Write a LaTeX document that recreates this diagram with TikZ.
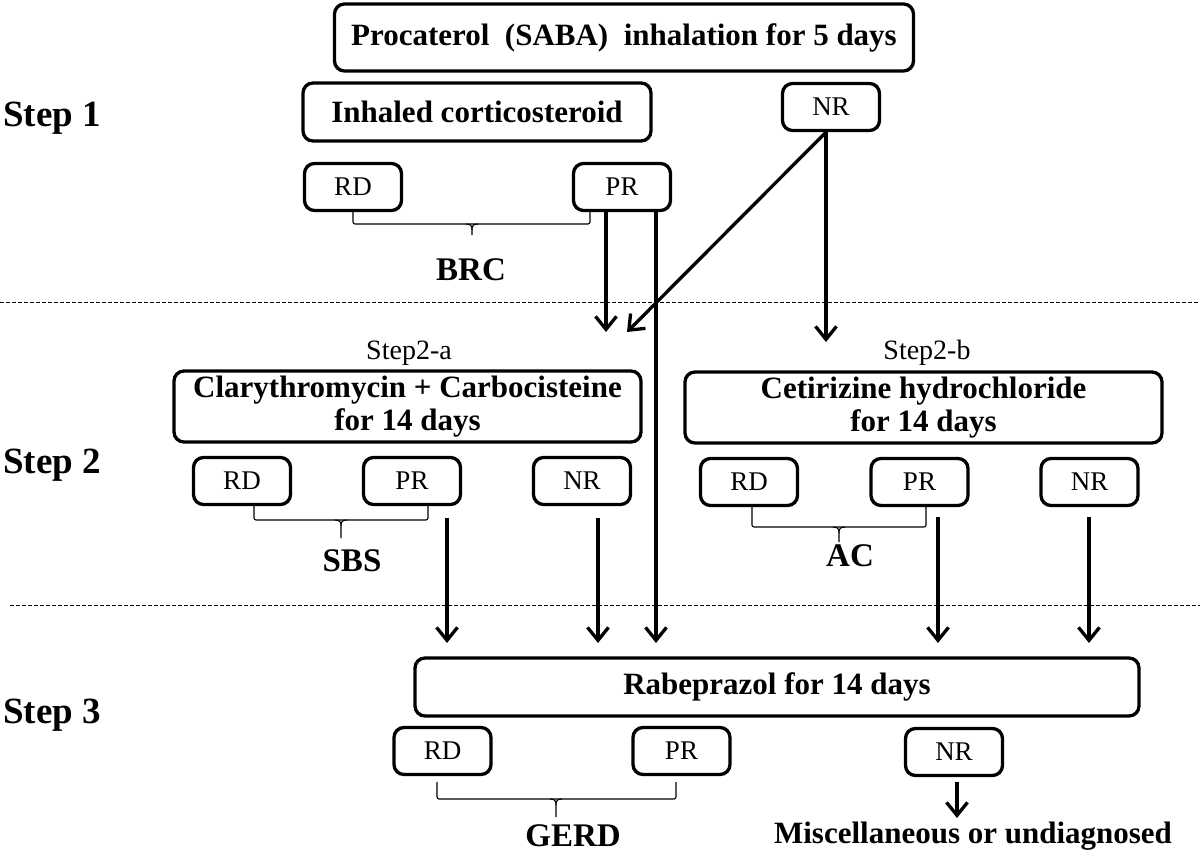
\documentclass[tikz,border=0pt]{standalone}
\usepackage{fontspec}
\setmainfont{Liberation Serif}
\usetikzlibrary{arrows.meta}
\begin{document}
\begin{tikzpicture}[x=1pt,y=-1pt,
  box/.style={draw, line width=3.3pt, rounded corners=10pt, inner sep=0pt, align=center},
  small/.style={box, minimum width=97pt, minimum height=47pt, font=\fontsize{27}{30}\selectfont},
  big/.style={font=\fontsize{31}{33}\selectfont\bfseries},
  steplab/.style={anchor=west, inner sep=0pt, font=\fontsize{37}{40}\selectfont\bfseries},
  grp/.style={inner sep=0pt, font=\fontsize{33}{36}\selectfont\bfseries},
  sub/.style={inner sep=0pt, font=\fontsize{28}{30}\selectfont},
  arr/.style={line width=3.3pt, -{Straight Barb[length=13pt,width=21pt]}},
  brk/.style={line width=1.1pt, rounded corners=2pt},
  sepline/.style={line width=0.9pt, dash pattern=on 4pt off 2pt}
]
\useasboundingbox (0,0) rectangle (1200,856);

% separators
\draw[sepline] (0,302) -- (1200,302);
\draw[sepline] (10,605) -- (1200,605);

% step labels
\node[steplab] (s1) at (3,118) {Step 1};
\node[steplab] (s2) at (3,465) {Step 2};
\node[steplab] (s3) at (3,715) {Step 3};

% step 1
\node[box,big,minimum width=579pt,minimum height=67pt] (title) at (624,37.5) {Procaterol\ \ (SABA)\ \ inhalation for 5 days};
\node[box,big,minimum width=348pt,minimum height=58pt] (ics) at (477,112) {Inhaled corticosteroid};
\node[small] (nr1) at (831,107) {NR};
\node[small] (rd1) at (353,187) {RD};
\node[small] (pr1) at (622,187) {PR};

% step 2
\node[sub] (s2a) at (409,353) {Step2-a};
\node[sub] (s2b) at (927,353) {Step2-b};
\node[box,big,minimum width=467pt,minimum height=71pt] (cla) at (407.5,406.5) {Clarythromycin + Carbocisteine\\for 14 days};
\node[box,big,minimum width=477pt,minimum height=71pt] (cet) at (923.5,407.5) {Cetirizine hydrochloride\\for 14 days};
\node[small] (rd2a) at (242,481) {RD};
\node[small] (pr2a) at (412,481) {PR};
\node[small] (nr2a) at (582,481) {NR};
\node[small] (rd2b) at (749,482) {RD};
\node[small] (pr2b) at (919.5,482) {PR};
\node[small] (nr2b) at (1089.5,482) {NR};

% step 3
\node[box,big,minimum width=724pt,minimum height=58pt] (rab) at (777,687) {Rabeprazol for 14 days};
\node[small] (rd3) at (442.5,751) {RD};
\node[small] (pr3) at (681.5,751) {PR};
\node[small] (nr3) at (954,752) {NR};

% group labels
\node[grp] (brc) at (471,270) {BRC};
\node[grp] (sbs) at (352,561) {SBS};
\node[grp] (ac) at (850,556) {AC};
\node[grp] (gerd) at (573,836) {GERD};
\node[big,inner sep=0pt] (misc) at (973,836) {Miscellaneous or undiagnosed};

% free ends
\coordinate (t1) at (606,332);
\coordinate (t2) at (627,332);
\coordinate (t3) at (826,342);
\coordinate (t4) at (656,643);
\coordinate (t5) at (447,643);
\coordinate (t6) at (598,643);
\coordinate (t7) at (938,643);
\coordinate (t8) at (1089,643);
\coordinate (t9) at (957,818);

% arrows
\draw[arr] (pr1.south -| t1) -- (t1);
\draw[arr] (pr1.south -| t4) -- (t4);
\draw[arr] (nr1.south -| t3) -- (t2);
\draw[arr] (nr1.south -| t3) -- (t3);
\draw[arr] ([yshift=-12pt]pr2a.south -| t5) -- (t5);
\draw[arr] ([yshift=-12pt]nr2a.south -| t6) -- (t6);
\draw[arr] ([yshift=-10pt]pr2b.south -| t7) -- (t7);
\draw[arr] ([yshift=-10pt]nr2b.south -| t8) -- (t8);
\draw[arr] ([yshift=-5pt]nr3.south -| t9) -- (t9);

% brackets
\draw[brk] (rd1.south) -- (353,224) -- (590,224) -- (590,212);
\draw[line width=1.1pt] (466,224) .. controls (471,224) and (472,226) .. (472,230) -- (472,235);
\draw[line width=1.1pt] (478,224) .. controls (473,224) and (472,226) .. (472,230);

\draw[brk] (rd2a.south -| 254,0) -- (254,520) -- (428,520) -- (428,505);
\draw[line width=1.1pt] (335,520) .. controls (340,520) and (341,522) .. (341,526) -- (341,538);
\draw[line width=1.1pt] (347,520) .. controls (342,520) and (341,522) .. (341,526);

\draw[brk] (rd2b.south -| 752,0) -- (752,527) -- (926,527) -- (926,506);
\draw[line width=1.1pt] (833,527) .. controls (838,527) and (839,529) .. (839,533) -- (839,542);
\draw[line width=1.1pt] (845,527) .. controls (840,527) and (839,529) .. (839,533);

\draw[brk] (437,782) -- (437,799) -- (676,799) -- (676,782);
\draw[line width=1.1pt] (550,799) .. controls (555,799) and (556,801) .. (556,805) -- (556,817);
\draw[line width=1.1pt] (562,799) .. controls (557,799) and (556,801) .. (556,805);
\end{tikzpicture}
\end{document}
